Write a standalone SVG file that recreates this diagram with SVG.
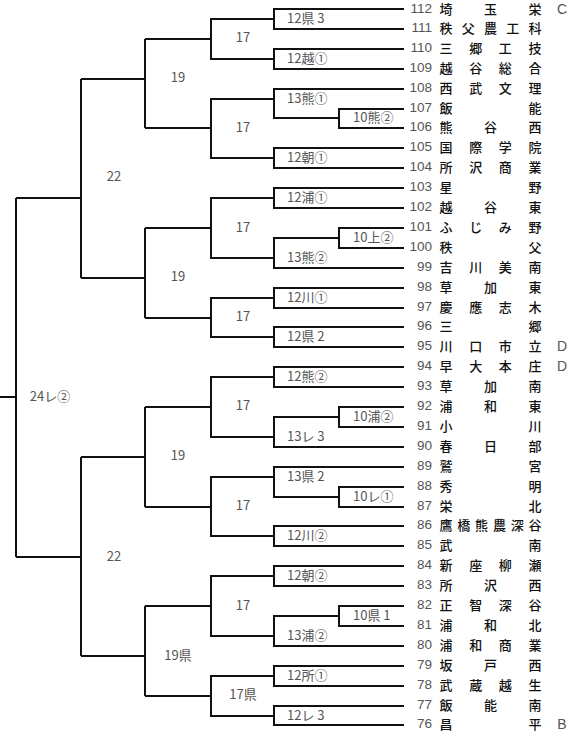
<svg xmlns="http://www.w3.org/2000/svg" width="580" height="750" viewBox="0 0 580 750">
<style>
.ln{fill:none;stroke:#111;stroke-width:2}
.num{font-family:"Liberation Sans","Noto Sans CJK JP",sans-serif;font-size:13.5px;fill:#555;text-anchor:end}
.nm{font-family:"Noto Sans CJK JP",sans-serif;font-size:13px;font-weight:500;fill:#111;text-anchor:middle}
.lb{font-family:"Noto Sans CJK JP",sans-serif;font-size:13px;fill:#555}
.lc{font-family:"Noto Sans CJK JP",sans-serif;font-size:13px;fill:#555;text-anchor:middle}
.rk{font-family:"Liberation Sans",sans-serif;font-size:14px;fill:#555;text-anchor:middle}
</style>
<rect width="580" height="750" fill="#fff"/>
<g id="connectors" class="ln">
<path d="M404,9H274V29H404"/>
<path d="M404,49H274V69H404"/>
<path d="M404,89H274V118H339M404,109H339V128H404"/>
<path d="M404,148H274V168H404"/>
<path d="M404,188H274V208H404"/>
<path d="M404,228H339V248H404M339,238H274V268H404"/>
<path d="M404,288H274V308H404"/>
<path d="M404,327H274V347H404"/>
<path d="M404,367H274V387H404"/>
<path d="M404,407H339V427H404M339,417H274V447H404"/>
<path d="M404,467H274V497H339M404,487H339V507H404"/>
<path d="M404,526H274V546H404"/>
<path d="M404,566H274V586H404"/>
<path d="M404,606H339V626H404M339,616H274V646H404"/>
<path d="M404,666H274V686H404"/>
<path d="M404,706H274V725H404"/>
<path d="M274,19H211V59H274M211,39H145"/>
<path d="M274,99H211V158H274M211,128H145"/>
<path d="M274,198H211V258H274M211,228H145"/>
<path d="M274,298H211V337H274M211,318H145"/>
<path d="M274,377H211V437H274M211,407H145"/>
<path d="M274,477H211V536H274M211,507H145"/>
<path d="M274,576H211V636H274M211,606H145"/>
<path d="M274,676H211V716H274M211,696H145"/>
<path d="M145,39V128M145,79H81"/>
<path d="M145,228V318M145,278H81"/>
<path d="M145,407V507M145,457H81"/>
<path d="M145,606V696M145,656H81"/>
<path d="M81,79V278M81,198H16"/>
<path d="M81,457V656M81,557H16"/>
<path d="M16,198V557M16,397H0"/>
</g>
<g id="teams">
<g id="t112"><text class="num" x="432" y="13">112</text><text class="nm" x="446 490.5 535" y="13.5">埼玉栄</text><text class="rk" x="562" y="13.5">C</text></g>
<g id="t111"><text class="num" x="432" y="32">111</text><text class="nm" x="446 468.25 490.5 512.75 535" y="32.5">秩父農工科</text></g>
<g id="t110"><text class="num" x="432" y="52">110</text><text class="nm" x="446 475.7 505.3 535" y="52.5">三郷工技</text></g>
<g id="t109"><text class="num" x="432" y="72">109</text><text class="nm" x="446 475.7 505.3 535" y="72.5">越谷総合</text></g>
<g id="t108"><text class="num" x="432" y="92">108</text><text class="nm" x="446 475.7 505.3 535" y="92.5">西武文理</text></g>
<g id="t107"><text class="num" x="432" y="112">107</text><text class="nm" x="446 535" y="112.5">飯能</text></g>
<g id="t106"><text class="num" x="432" y="131">106</text><text class="nm" x="446 490.5 535" y="131.5">熊谷西</text></g>
<g id="t105"><text class="num" x="432" y="151">105</text><text class="nm" x="446 475.7 505.3 535" y="151.5">国際学院</text></g>
<g id="t104"><text class="num" x="432" y="171">104</text><text class="nm" x="446 475.7 505.3 535" y="171.5">所沢商業</text></g>
<g id="t103"><text class="num" x="432" y="191">103</text><text class="nm" x="446 535" y="191.5">星野</text></g>
<g id="t102"><text class="num" x="432" y="211">102</text><text class="nm" x="446 490.5 535" y="211.5">越谷東</text></g>
<g id="t101"><text class="num" x="432" y="231">101</text><text class="nm" x="446 475.7 505.3 535" y="231.5">ふじみ野</text></g>
<g id="t100"><text class="num" x="432" y="251">100</text><text class="nm" x="446 535" y="251.5">秩父</text></g>
<g id="t99"><text class="num" x="432" y="271">99</text><text class="nm" x="446 475.7 505.3 535" y="271.5">吉川美南</text></g>
<g id="t98"><text class="num" x="432" y="291">98</text><text class="nm" x="446 490.5 535" y="291.5">草加東</text></g>
<g id="t97"><text class="num" x="432" y="311">97</text><text class="nm" x="446 475.7 505.3 535" y="311.5">慶應志木</text></g>
<g id="t96"><text class="num" x="432" y="330">96</text><text class="nm" x="446 535" y="330.5">三郷</text></g>
<g id="t95"><text class="num" x="432" y="350">95</text><text class="nm" x="446 475.7 505.3 535" y="350.5">川口市立</text><text class="rk" x="562" y="351">D</text></g>
<g id="t94"><text class="num" x="432" y="370">94</text><text class="nm" x="446 475.7 505.3 535" y="370.5">早大本庄</text><text class="rk" x="562" y="371">D</text></g>
<g id="t93"><text class="num" x="432" y="390">93</text><text class="nm" x="446 490.5 535" y="390.5">草加南</text></g>
<g id="t92"><text class="num" x="432" y="410">92</text><text class="nm" x="446 490.5 535" y="410.5">浦和東</text></g>
<g id="t91"><text class="num" x="432" y="430">91</text><text class="nm" x="446 535" y="430.5">小川</text></g>
<g id="t90"><text class="num" x="432" y="450">90</text><text class="nm" x="446 490.5 535" y="450.5">春日部</text></g>
<g id="t89"><text class="num" x="432" y="470">89</text><text class="nm" x="446 535" y="470.5">鷲宮</text></g>
<g id="t88"><text class="num" x="432" y="490">88</text><text class="nm" x="446 535" y="490.5">秀明</text></g>
<g id="t87"><text class="num" x="432" y="510">87</text><text class="nm" x="446 535" y="510.5">栄北</text></g>
<g id="t86"><text class="num" x="432" y="529">86</text><text class="nm" x="446 463.8 481.6 499.4 517.2 535" y="529.5">鷹橋熊農深谷</text></g>
<g id="t85"><text class="num" x="432" y="549">85</text><text class="nm" x="446 535" y="549.5">武南</text></g>
<g id="t84"><text class="num" x="432" y="569">84</text><text class="nm" x="446 475.7 505.3 535" y="569.5">新座柳瀬</text></g>
<g id="t83"><text class="num" x="432" y="589">83</text><text class="nm" x="446 490.5 535" y="589.5">所沢西</text></g>
<g id="t82"><text class="num" x="432" y="609">82</text><text class="nm" x="446 475.7 505.3 535" y="609.5">正智深谷</text></g>
<g id="t81"><text class="num" x="432" y="629">81</text><text class="nm" x="446 490.5 535" y="629.5">浦和北</text></g>
<g id="t80"><text class="num" x="432" y="649">80</text><text class="nm" x="446 475.7 505.3 535" y="649.5">浦和商業</text></g>
<g id="t79"><text class="num" x="432" y="669">79</text><text class="nm" x="446 490.5 535" y="669.5">坂戸西</text></g>
<g id="t78"><text class="num" x="432" y="689">78</text><text class="nm" x="446 475.7 505.3 535" y="689.5">武蔵越生</text></g>
<g id="t77"><text class="num" x="432" y="709">77</text><text class="nm" x="446 490.5 535" y="709.5">飯能南</text></g>
<g id="t76"><text class="num" x="432" y="728">76</text><text class="nm" x="446 535" y="728.5">昌平</text><text class="rk" x="562" y="729">B</text></g>
</g>
<g id="matches">
<g id="m1"><text class="lb" x="287" y="23">12県 3</text></g>
<g id="m2"><text class="lb" x="287" y="63">12越①</text></g>
<g id="m3"><text class="lb" x="287" y="103">13熊①</text></g>
<g id="m4"><text class="lb" x="353" y="122">10熊②</text></g>
<g id="m5"><text class="lb" x="287" y="162">12朝①</text></g>
<g id="m6"><text class="lb" x="287" y="202">12浦①</text></g>
<g id="m7"><text class="lb" x="353" y="242">10上②</text></g>
<g id="m8"><text class="lb" x="287" y="262">13熊②</text></g>
<g id="m9"><text class="lb" x="287" y="302">12川①</text></g>
<g id="m10"><text class="lb" x="287" y="341">12県 2</text></g>
<g id="m11"><text class="lb" x="287" y="381">12熊②</text></g>
<g id="m12"><text class="lb" x="353" y="421">10浦②</text></g>
<g id="m13"><text class="lb" x="287" y="441">13レ 3</text></g>
<g id="m14"><text class="lb" x="287" y="481">13県 2</text></g>
<g id="m15"><text class="lb" x="353" y="501">10レ①</text></g>
<g id="m16"><text class="lb" x="287" y="540">12川②</text></g>
<g id="m17"><text class="lb" x="287" y="580">12朝②</text></g>
<g id="m18"><text class="lb" x="353" y="620">10県 1</text></g>
<g id="m19"><text class="lb" x="287" y="640">13浦②</text></g>
<g id="m20"><text class="lb" x="287" y="680">12所①</text></g>
<g id="m21"><text class="lb" x="287" y="720">12レ 3</text></g>
<g id="m22"><text class="lc" x="243" y="42">17</text></g>
<g id="m23"><text class="lc" x="243" y="132">17</text></g>
<g id="m24"><text class="lc" x="243" y="232">17</text></g>
<g id="m25"><text class="lc" x="243" y="321">17</text></g>
<g id="m26"><text class="lc" x="243" y="410">17</text></g>
<g id="m27"><text class="lc" x="243" y="510">17</text></g>
<g id="m28"><text class="lc" x="243" y="610">17</text></g>
<g id="m29"><text class="lc" x="243" y="699">17県</text></g>
<g id="m30"><text class="lc" x="178" y="82">19</text></g>
<g id="m31"><text class="lc" x="178" y="281">19</text></g>
<g id="m32"><text class="lc" x="178" y="460">19</text></g>
<g id="m33"><text class="lc" x="178" y="660">19県</text></g>
<g id="m34"><text class="lc" x="114" y="181">22</text></g>
<g id="m35"><text class="lc" x="114" y="561">22</text></g>
<g id="m36"><text class="lc" x="50" y="401">24レ②</text></g>
</g>
</svg>
